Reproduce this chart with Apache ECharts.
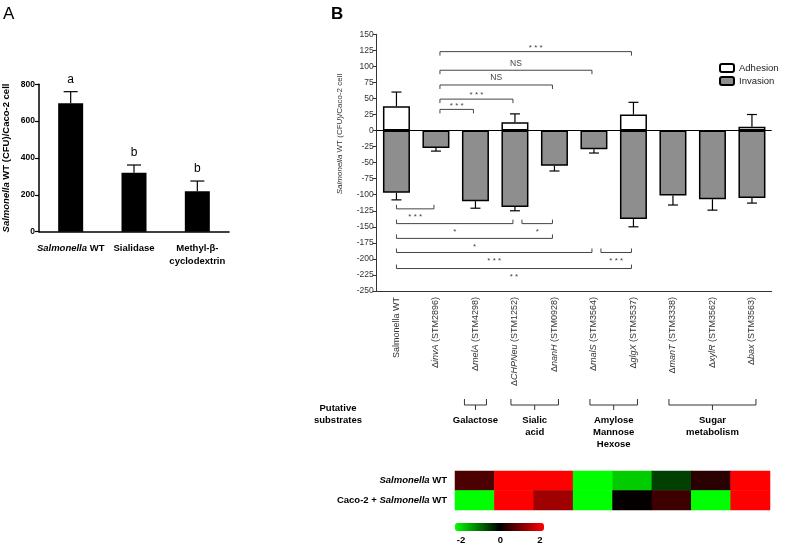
<!DOCTYPE html>
<html><head><meta charset="utf-8">
<script src="https://cdn.jsdelivr.net/npm/echarts@6/dist/echarts.min.js"></script>
<style>html,body{margin:0;padding:0;background:#fff}#c{width:787px;height:545px}</style>
</head><body><div id="c"></div>
<script>
const FONT = 'Liberation Sans, Arial, sans-serif';
// ---- Panel A data ----
const catsA = ['Salmonella WT', 'Sialidase', 'Methyl-β-\ncyclodextrin'];
const valsA = [697, 320, 219];
const errA = [63, 42, 56];
const lettersA = ['a', 'b', 'b'];
// ---- Panel B data ----
const genesB = ['invA', 'melA', 'CHPNeu', 'nanH', 'malS', 'glgX', 'manT', 'xylR', 'bax'];
const stmB = ['STM2896', 'STM4298', 'STM1252', 'STM0928', 'STM3564', 'STM3537', 'STM3338', 'STM3562', 'STM3563'];
const catsB = ['Salmonella WT'].concat(genesB.map((g, i) => 'Δ' + g + ' (' + stmB[i] + ')'));
const adhesion = [38, '-', '-', 13, '-', '-', 25, '-', '-', 6];
const adhesionErr = [22, null, null, 13, null, null, 19, null, null, 19];
const invasion = [-97, -27, -110, -119, -55, -29, -138, -101, -107, -105];
const invasionErr = [11, 5, 11, 6, 8, 6, 12, 15, 17, 8];
// significance brackets (category indices, y value, label)
const bracketFrom = [1, 1, 1, 1, 1, 0, 0, 3, 0, 0, 5, 0];
const bracketTo = [6, 5, 4, 3, 2, 1, 3, 4, 4, 5, 6, 6];
const bracketY = [123, 94, 71, 49, 33, -122, -145, -145, -168, -190, -190, -215];
const bracketLabel = ['* * *', 'NS', 'NS', '* * *', '* * *', '* * *', '*', '*', '*', '* * *', '* * *', '* *'];
// putative substrate groups
const groupName = ['Galactose', 'Sialic\nacid', 'Amylose\nMannose\nHexose', 'Sugar\nmetabolism'];
const groupFrom = [2, 3, 5, 7];
const groupTo = [2, 4, 6, 9];
// ---- heatmap ----
const heatCols = genesB.slice(1);
const heatRows = ['Salmonella WT', 'Caco-2 + Salmonella WT'];
const heatWT = [0.6, 2, 2, -2, -1.6, -0.5, 0.33, 2];
const heatCaco = [-2, 2, 1.25, -2, 0.03, 0.47, -2, 2];
const scaleMin = -2, scaleMax = 2, scaleStep = 2;

const chart = echarts.init(document.getElementById('c'), null, {renderer: 'canvas'});

function errRender(cap, withLetters) {
  return function (params, api) {
    const x = api.value(0), v = api.value(1), e = api.value(2);
    const s = v >= 0 ? 1 : -1;
    const p0 = api.coord([x, v]);
    const p1 = api.coord([x, v + s * e]);
    const st = {stroke: '#000', lineWidth: 1.2};
    const ch = [
      {type: 'line', shape: {x1: p0[0], y1: p0[1], x2: p1[0], y2: p1[1]}, style: st},
      {type: 'line', shape: {x1: p1[0] - cap / 2, y1: p1[1], x2: p1[0] + cap / 2, y2: p1[1]}, style: st}
    ];
    if (withLetters) {
      ch.push({type: 'text', x: p1[0], y: p1[1] - 12, style: {text: lettersA[params.dataIndex], fill: '#000', font: '12px ' + FONT, align: 'center', verticalAlign: 'middle'}});
    }
    return {type: 'group', children: ch};
  };
}

const errBData = [];
adhesion.forEach((v, i) => { if (v !== '-' && adhesionErr[i] != null) errBData.push([i, v, adhesionErr[i]]); });
invasion.forEach((v, i) => { errBData.push([i, v, invasionErr[i]]); });

const heatData = [];
heatWT.forEach((v, i) => heatData.push([i, 0, v]));
heatCaco.forEach((v, i) => heatData.push([i, 1, v]));

const option = {
  animation: false,
  backgroundColor: '#fff',
  textStyle: {fontFamily: FONT},
  grid: [
    {left: 39, top: 84.3, width: 190, height: 147.4},
    {left: 376.7, top: 34.3, width: 395, height: 256.7},
    {left: 455, top: 471, width: 315, height: 39},
    {left: 461, top: 530, width: 79, height: 1}
  ],
  legend: {
    data: ['Adhesion', 'Invasion'], orient: 'vertical', left: 714, top: 58,
    itemWidth: 14, itemHeight: 8, itemGap: 3,
    textStyle: {fontSize: 9.5, color: '#222', fontFamily: FONT}
  },
  xAxis: [
    {gridIndex: 0, type: 'category', data: catsA,
     axisLine: {lineStyle: {color: '#000', width: 1.5}},
     axisTick: {alignWithLabel: true, length: 4, lineStyle: {color: '#000', width: 1.2}},
     axisLabel: {interval: 0, color: '#000', fontWeight: 'bold', fontSize: 9.5, margin: 10, lineHeight: 13,
       formatter: (v, i) => i === 0 ? '{bi|Salmonella} WT' : v,
       rich: {bi: {fontStyle: 'italic', fontWeight: 'bold', fontSize: 9.5, color: '#000'}}}},
    {gridIndex: 1, type: 'category', data: catsB,
     axisLine: {onZero: false, lineStyle: {color: '#333', width: 1}},
     axisTick: {alignWithLabel: true, length: 4, lineStyle: {color: '#333'}},
     axisLabel: {rotate: 90, interval: 0, color: '#333', fontSize: 9, margin: 6,
       formatter: (v, i) => i === 0 ? v : 'Δ{i|' + genesB[i - 1] + '} (' + stmB[i - 1] + ')',
       rich: {i: {fontStyle: 'italic', fontSize: 9, color: '#333'}}}},
    {gridIndex: 2, type: 'category', data: heatCols, show: false},
    {gridIndex: 3, type: 'value', min: scaleMin, max: scaleMax, interval: scaleStep,
     axisLine: {show: false}, axisTick: {show: false}, splitLine: {show: false},
     axisLabel: {color: '#000', fontWeight: 'bold', fontSize: 9.5, margin: 4}}
  ],
  yAxis: [
    {gridIndex: 0, type: 'value', min: 0, max: 800, interval: 200,
     name: '{bi|Salmonella} WT (CFU)/Caco-2 cell', nameLocation: 'middle', nameGap: 28,
     nameTextStyle: {fontWeight: 'bold', fontSize: 9.5, color: '#000',
       rich: {bi: {fontStyle: 'italic', fontWeight: 'bold', fontSize: 9.5, color: '#000'}}},
     axisLine: {show: true, lineStyle: {color: '#000', width: 1.5}},
     axisTick: {show: true, length: 4, lineStyle: {color: '#000', width: 1.2}},
     splitLine: {show: false},
     axisLabel: {color: '#000', fontWeight: 'bold', fontSize: 8.5, margin: 4}},
    {gridIndex: 1, type: 'value', min: -250, max: 150, interval: 25,
     axisLine: {show: true, lineStyle: {color: '#333', width: 1}},
     axisTick: {show: true, length: 4, lineStyle: {color: '#333'}},
     splitLine: {show: false},
     axisLabel: {color: '#333', fontSize: 8.5, margin: 3}},
    {gridIndex: 2, type: 'category', data: heatRows, inverse: true,
     axisLine: {show: false}, axisTick: {show: false},
     axisLabel: {color: '#000', fontWeight: 'bold', fontSize: 9.5, margin: 8,
       formatter: v => v.replace('Salmonella', '{bi|Salmonella}'),
       rich: {bi: {fontStyle: 'italic', fontWeight: 'bold', fontSize: 9.5, color: '#000'}}}},
    {gridIndex: 3, type: 'value', show: false}
  ],
  visualMap: {
    type: 'continuous', min: scaleMin, max: scaleMax, seriesIndex: 6,
    inRange: {color: ['#00ff00', '#000000', '#ff0000']},
    orient: 'horizontal', left: 440, top: 508, itemWidth: 8, itemHeight: 89,
    calculable: false, text: null, hoverLink: false
  },
  series: [
    {type: 'bar', xAxisIndex: 0, yAxisIndex: 0, data: valsA, barWidth: 25,
     itemStyle: {color: '#000'}, silent: true},
    {type: 'custom', xAxisIndex: 0, yAxisIndex: 0, renderItem: errRender(14, true),
     data: valsA.map((v, i) => [i, v, errA[i]]), silent: true, z: 5},
    {name: 'Adhesion', type: 'bar', xAxisIndex: 1, yAxisIndex: 1, data: adhesion, barWidth: 27, barGap: '-100%',
     itemStyle: {color: '#fff', borderColor: '#000', borderWidth: 1.5}, silent: true},
    {name: 'Invasion', type: 'bar', xAxisIndex: 1, yAxisIndex: 1, data: invasion, barWidth: 27, barGap: '-100%',
     itemStyle: {color: '#8e8e8e', borderColor: '#000', borderWidth: 1.5}, silent: true,
     markLine: {silent: true, symbol: ['none', 'none'], label: {show: false},
       lineStyle: {color: '#000', width: 1, type: 'solid'}, data: [{yAxis: 0}]}},
    {type: 'custom', xAxisIndex: 1, yAxisIndex: 1, renderItem: errRender(10, false),
     data: errBData, silent: true, z: 5},
    {type: 'custom', xAxisIndex: 1, yAxisIndex: 1, silent: true, z: 6,
     data: bracketFrom.map((f, i) => [f, bracketY[i]]),
     renderItem: function (params, api) {
       const i = params.dataIndex;
       const pa = api.coord([bracketFrom[i], bracketY[i]]);
       const pb = api.coord([bracketTo[i], bracketY[i]]);
       let adj = false;
       for (let j = 0; j < bracketTo.length; j++) {
         if (j !== i && bracketTo[j] === bracketFrom[i] && bracketY[j] === bracketY[i]) adj = true;
       }
       const x1 = pa[0] + (adj ? 7 : (bracketFrom[i] === 0 ? 0 : 4));
       const x2 = pb[0] - 2;
       const y = pa[1];
       const up = bracketY[i] > 0;
       const d = up ? 4 : -4;
       const star = bracketLabel[i].indexOf('*') >= 0;
       const ty = up ? (star ? y - 4 : y - 7) : y + 8;
       return {type: 'group', children: [
         {type: 'polyline', shape: {points: [[x1, y + d], [x1, y], [x2, y], [x2, y + d]]},
          style: {stroke: '#444', lineWidth: 1, fill: null}},
         {type: 'text', x: (x1 + x2) / 2, y: ty,
          style: {text: bracketLabel[i], fill: '#444', font: (star ? '8px ' : '8.5px ') + FONT, align: 'center', verticalAlign: 'middle'}}
       ]};
     }},
    {type: 'heatmap', xAxisIndex: 2, yAxisIndex: 2, data: heatData, silent: true,
     itemStyle: {borderWidth: 0}},
    {type: 'line', xAxisIndex: 3, yAxisIndex: 3, data: [], silent: true}
  ]
};
chart.setOption(option);

// graphic annotations: panel letters, B axis title, substrate groups
const g = [
  {type: 'text', left: 3, top: 6, style: {text: 'A', font: '17px ' + FONT, fill: '#000'}},
  {type: 'text', left: 331, top: 6, style: {text: 'B', font: 'bold 17px ' + FONT, fill: '#000'}},
  {type: 'text', x: 340, y: 134, rotation: Math.PI / 2,
   style: {text: '{i|Salmonella} WT (CFU)/Caco-2 cell', font: '8px ' + FONT, fill: '#333', align: 'center', verticalAlign: 'middle',
     rich: {i: {fontStyle: 'italic', fontSize: 8, fill: '#333', fontFamily: FONT}}}},
  {type: 'text', x: 338, y: 414, style: {text: 'Putative\nsubstrates', font: 'bold 9.5px ' + FONT, lineHeight: 12, fill: '#000', align: 'center', verticalAlign: 'middle'}}
];
for (let k = 0; k < groupName.length; k++) {
  const a = chart.convertToPixel({xAxisIndex: 1}, groupFrom[k]);
  const b = chart.convertToPixel({xAxisIndex: 1}, groupTo[k]);
  const single = groupFrom[k] === groupTo[k];
  const x1 = a - (single ? 11 : 4), x2 = b + (single ? 11 : 4), xm = (x1 + x2) / 2;
  g.push({type: 'polyline', shape: {points: [[x1, 399], [x1, 405], [x2, 405], [x2, 399]]}, style: {stroke: '#333', lineWidth: 1, fill: null}});
  g.push({type: 'line', shape: {x1: xm, y1: 405, x2: xm, y2: 410}, style: {stroke: '#333', lineWidth: 1}});
  g.push({type: 'text', x: xm, y: 414, style: {text: groupName[k], font: 'bold 9.5px ' + FONT, lineHeight: 12, fill: '#000', align: 'center', verticalAlign: 'top'}});
}
chart.setOption({graphic: g});
</script>
</body></html>
